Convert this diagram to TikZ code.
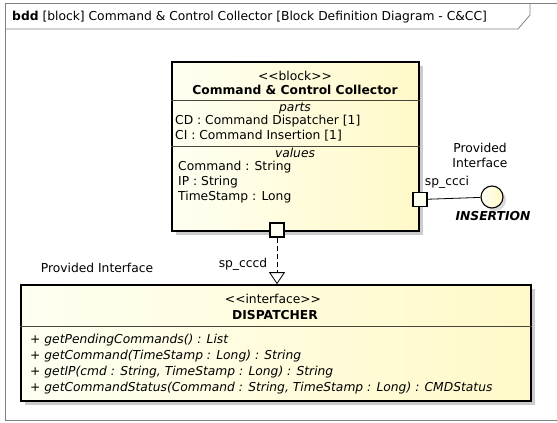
\documentclass[tikz,border=0pt]{standalone}
\usepackage{fontspec}
\setmainfont{DejaVu Sans}
\usetikzlibrary{shadows,arrows.meta}
\definecolor{boxL}{RGB}{255,255,242}
\definecolor{boxR}{RGB}{255,249,200}
\definecolor{framegray}{RGB}{128,128,128}
\definecolor{sepgray}{RGB}{70,70,60}
\tikzset{
  fs/.style={font=\fontsize{12.3}{14}\selectfont},
  txt/.style={fs, inner sep=0pt, anchor=base},
  txtl/.style={fs, inner sep=0pt, anchor=base west},
  umlbox/.style={draw=black, line width=1.6pt, rectangle, inner sep=0pt,
    left color=boxL, right color=boxR,
    drop shadow={shadow xshift=4pt, shadow yshift=-4pt, fill=black!20, opacity=1}},
  port/.style={draw=black, line width=1.6pt, fill=boxL, rectangle, inner sep=0pt, minimum size=14pt},
  lolli/.style={draw=black, line width=1.1pt, circle, inner sep=0pt, minimum size=22pt,
    left color=boxL, right color=boxR,
    drop shadow={shadow xshift=3pt, shadow yshift=-3pt, fill=black!15, opacity=1}},
  sep/.style={draw=sepgray, line width=0.8pt}
}
\newcommand{\stereo}[1]{\textless{}\textless{}#1\textgreater{}\textgreater{}}
\begin{document}
\begin{tikzpicture}[x=1pt,y=-1pt]
\useasboundingbox (0,0) rectangle (557,423);
\fill[white] (0,0) rectangle (557,423);
% frame
\draw[framegray, line width=0.8pt] (5,420) -- (5,3) -- (557,3);
\draw[framegray, line width=0.8pt] (5,420) -- (557,420);
\draw[framegray, line width=0.8pt] (5,29) -- (518,29) -- (530,15) -- (530,3);
\node[txtl] (title) at (12,20) {\textbf{bdd} [block] Command \& Control Collector [Block Definition Diagram - C\&CC]};

% block
\node[umlbox, minimum width=247pt, minimum height=169pt] (ccc) at (295.5,146.5) {};
\draw[sep] (ccc.west |- 0,100) -- (ccc.east |- 0,100);
\draw[sep] (ccc.west |- 0,146) -- (ccc.east |- 0,146);
\node[txt] (cst) at (295,80) {\stereo{block}};
\node[txt] (cname) at (295,94) {\textbf{Command \& Control Collector}};
\node[txt] (cparts) at (295,111) {\textit{parts}};
\node[txtl] (cp1) at (175,124) {CD : Command Dispatcher [1]};
\node[txtl] (cp2) at (175,139) {CI : Command Insertion [1]};
\node[txt] (cvals) at (295,157) {\textit{values}};
\node[txtl] (cv1) at (178,170) {Command : String};
\node[txtl] (cv2) at (178,185) {IP : String};
\node[txtl] (cv3) at (178,200) {TimeStamp : Long};

% dispatcher
\node[umlbox, minimum width=510pt, minimum height=116pt] (disp) at (276,343) {};
\draw[sep] (disp.west |- 0,326) -- (disp.east |- 0,326);
\node[txt] (dst) at (273,303) {\stereo{interface}};
\node[txt] (dname) at (275,319) {\textbf{DISPATCHER}};
\node[txtl] (dm1) at (30,343) {\textit{+ getPendingCommands() : List}};
\node[txtl] (dm2) at (30,359) {\textit{+ getCommand(TimeStamp : Long) : String}};
\node[txtl] (dm3) at (30,375) {\textit{+ getIP(cmd : String, TimeStamp : Long) : String}};
\node[txtl] (dm4) at (30,391) {\textit{+ getCommandStatus(Command : String, TimeStamp : Long) : CMDStatus}};

% ports
\node[port] (pb) at (277,230) {};
\node[port] (pr) at (420,199.5) {};
\node[lolli] (ins) at (492,197) {};
\draw[black, line width=0.8pt] (pr) -- (ins);
\draw[black, line width=0.8pt, dash pattern=on 5pt off 3pt,
  -{Triangle[open, length=12pt, width=16pt, line width=0.8pt]}]
  (pb.south) -- (pb.south |- disp.north);

% labels
\node[txt] (lccci) at (447,185) {sp\_ccci};
\node[txt] (lprov1) at (480,152) {Provided};
\node[txt] (lprov2) at (480,167) {Interface};
\node[txt] (lins) at (493,220) {\textbf{\textit{INSERTION}}};
\node[txt] (lcccd) at (243,267) {sp\_cccd};
\node[txt] (lprov3) at (97,272) {Provided Interface};
\end{tikzpicture}
\end{document}
